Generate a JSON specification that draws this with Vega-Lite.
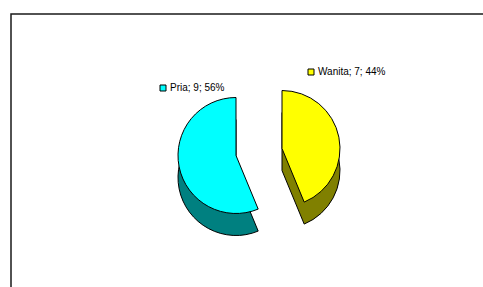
{
  "$schema": "https://vega.github.io/schema/vega-lite/v6.json",
  "autosize": {"type": "fit", "contains": "padding"},
  "width": 483,
  "height": 287,
  "padding": {"left": 11, "top": 14, "right": -6, "bottom": -6},
  "background": "#ffffff",
  "view": {"stroke": "#1a1a1a", "strokeWidth": 1.5},
  "config": {
    "view": {"stroke": "#1a1a1a", "strokeWidth": 1.5},
    "font": "Liberation Sans"
  },
  "data": {
    "values": [
      {"jenis": "Pria", "jumlah": 9, "label": "Pria; 9; 56%"},
      {"jenis": "Wanita", "jumlah": 7, "label": "Wanita; 7; 44%"}
    ]
  },
  "transform": [
    {"stack": "jumlah", "groupby": [], "as": ["t0", "t1"], "sort": [{"field": "jenis", "order": "descending"}]}
  ],
  "layer": [
    {
      "transform": [{"filter": "datum.jenis === 'Pria'"}],
      "mark": {"type": "arc", "radius": 58, "fill": "#008080", "stroke": "#000", "strokeWidth": 1, "xOffset": -14, "yOffset": 24},
      "encoding": {
        "theta": {"field": "t0", "type": "quantitative", "scale": {"domain": [0, 16]}},
        "theta2": {"field": "t1"}
      }
    },
    {
      "transform": [{"filter": "datum.jenis === 'Wanita'"}],
      "mark": {"type": "arc", "radius": 58, "fill": "#808000", "stroke": "#000", "strokeWidth": 1, "xOffset": 32, "yOffset": 17},
      "encoding": {
        "theta": {"field": "t0", "type": "quantitative", "scale": {"domain": [0, 16]}},
        "theta2": {"field": "t1"}
      }
    },
    {
      "transform": [{"filter": "datum.jenis === 'Pria'"}],
      "mark": {"type": "arc", "radius": 58, "stroke": "#000", "strokeWidth": 1, "xOffset": -14, "yOffset": 2, "opacity": 1},
      "encoding": {
        "theta": {"field": "t0", "type": "quantitative", "scale": {"domain": [0, 16]}},
        "theta2": {"field": "t1"},
        "color": {
          "field": "label", "type": "nominal",
          "scale": {"domain": ["Pria; 9; 56%"], "range": ["#00FFFF"]},
          "legend": {"title": null, "orient": "none", "legendX": 147, "legendY": 69, "padding": 0, "symbolType": "square", "symbolSize": 36, "symbolStrokeColor": "#000", "symbolStrokeWidth": 1, "symbolOpacity": 1, "labelFont": "Liberation Sans", "labelFontSize": 10, "labelColor": "#000", "labelOffset": 2}
        }
      }
    },
    {
      "transform": [{"filter": "datum.jenis === 'Wanita'"}],
      "mark": {"type": "arc", "radius": 58, "stroke": "#000", "strokeWidth": 1, "xOffset": 32, "yOffset": -5, "opacity": 1},
      "encoding": {
        "theta": {"field": "t0", "type": "quantitative", "scale": {"domain": [0, 16]}},
        "theta2": {"field": "t1"},
        "fill": {
          "field": "label", "type": "nominal",
          "scale": {"domain": ["Wanita; 7; 44%"], "range": ["#FFFF00"]},
          "legend": {"title": null, "orient": "none", "legendX": 295, "legendY": 53, "padding": 0, "symbolType": "square", "symbolSize": 36, "symbolStrokeColor": "#000", "symbolStrokeWidth": 1, "symbolOpacity": 1, "labelFont": "Liberation Sans", "labelFontSize": 10, "labelColor": "#000", "labelOffset": 2}
        }
      }
    }
  ],
  "resolve": {"scale": {"color": "independent", "fill": "independent", "theta": "shared"}}
}
